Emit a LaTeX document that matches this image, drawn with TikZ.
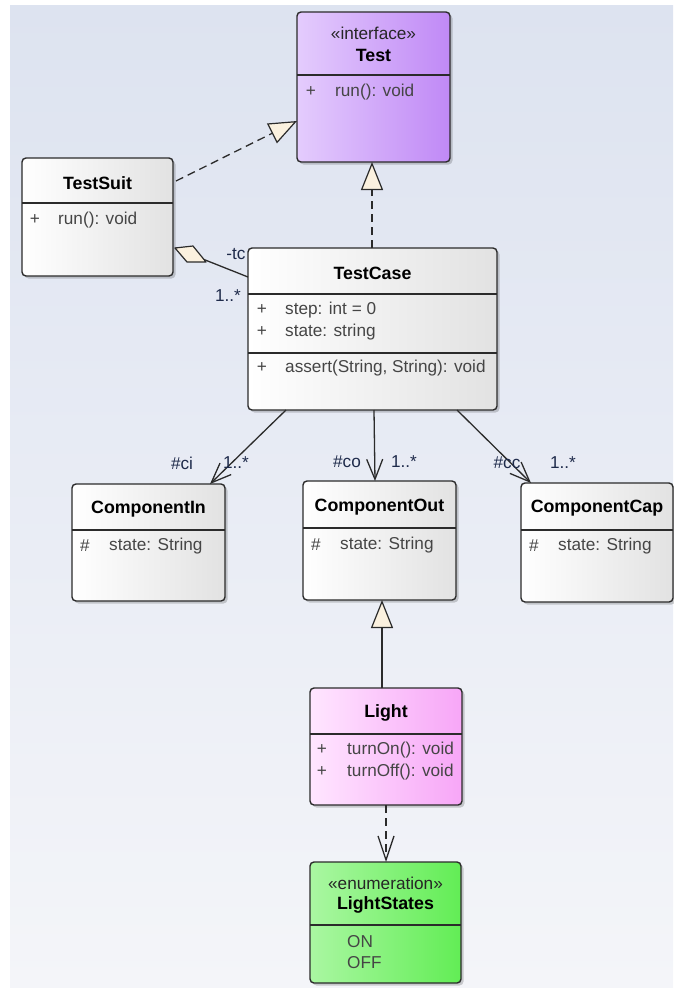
\documentclass[tikz,border=0pt]{standalone}
\usepackage{fontspec}
\setmainfont{Liberation Sans}
\usetikzlibrary{arrows.meta,shadows,calc}

\definecolor{bgtop}{HTML}{DDE3F0}
\definecolor{bgbot}{HTML}{F4F5F9}
\definecolor{boxline}{HTML}{2B2B2B}
\definecolor{membertext}{HTML}{454545}
\definecolor{roletext}{HTML}{1E2A4A}
\definecolor{tipfill}{HTML}{FBF1DF}
\definecolor{grayL}{HTML}{FFFFFF}
\definecolor{grayR}{HTML}{E2E2E2}
\definecolor{ifaceL}{HTML}{E4CCFD}
\definecolor{ifaceR}{HTML}{C089F6}
\definecolor{lightL}{HTML}{FFE6FF}
\definecolor{lightR}{HTML}{F7A6F7}
\definecolor{enumL}{HTML}{AAF7A2}
\definecolor{enumR}{HTML}{62ED55}

\newcommand\umlbody{\fontsize{17.2}{20}\selectfont}
\newcommand\umlname{\fontsize{17.8}{20}\selectfont\bfseries}

\tikzset{
  classbox/.style={draw=boxline, line width=1.4pt, rounded corners=4pt,
    anchor=north west, inner sep=0pt, outer sep=0pt,
    drop shadow={shadow xshift=2.5pt, shadow yshift=-2.5pt, opacity=0.18, fill=black}},
  plainbox/.style={classbox, left color=grayL, right color=grayR},
  divider/.style={draw=boxline, line width=1.2pt},
  cname/.style={font=\umlname, text=black, inner sep=0pt},
  stereo/.style={font=\umlbody, text=black!85, inner sep=0pt},
  member/.style={font=\umlbody, text=membertext, inner sep=0pt, anchor=west},
  vis/.style={font=\umlbody, text=membertext, inner sep=0pt},
  role/.style={font=\umlbody, text=roletext, inner sep=0pt},
  realize/.style={draw=boxline, line width=1.3pt, dash pattern=on 8pt off 5pt,
    -{Triangle[length=28pt,width=22pt,fill=tipfill,line width=1.2pt]}},
  generalize/.style={draw=boxline, line width=1.3pt,
    -{Triangle[length=28pt,width=22pt,fill=tipfill,line width=1.2pt]}},
  assoc/.style={draw=boxline, line width=1.3pt,
    -{Straight Barb[length=20pt,width=16pt,line width=1.3pt]}},
  depend/.style={draw=boxline, line width=1.3pt, dash pattern=on 8pt off 5pt,
    -{Straight Barb[length=24pt,width=16pt,line width=1.3pt]}},
  aggline/.style={draw=boxline, line width=1.3pt},
}

\begin{document}
\begin{tikzpicture}[x=1pt,y=-1pt]
\useasboundingbox (0,0) rectangle (673,988);
\fill[white] (0,0) rectangle (673,988);
\shade[top color=bgtop, bottom color=bgbot] (10,5) rectangle (673,988);

% ---- classes ----
\node[classbox, left color=ifaceL, right color=ifaceR,
      minimum width=153pt, minimum height=150pt] (test) at (297,12) {};
\draw[divider] (297,75) -- (450,75);
\node[stereo] (testst) at (373.5,33) {«interface»};
\node[cname] (testnm) at (373.5,55) {Test};
\node[vis] (testv1) at (311,92) {+};
\node[member] (testm1) at (335,92) {run(): void};

\node[plainbox, minimum width=151pt, minimum height=118pt] (ts) at (22,158) {};
\draw[divider] (22,203) -- (173,203);
\node[cname] (tsnm) at (97.5,183) {TestSuit};
\node[vis] (tsv1) at (35,220) {+};
\node[member] (tsm1) at (58,220) {run(): void};

\node[plainbox, minimum width=249pt, minimum height=162pt] (tc) at (248,248) {};
\draw[divider] (248,294) -- (497,294);
\draw[divider] (248,353) -- (497,353);
\node[cname] (tcnm) at (372.5,273) {TestCase};
\node[vis] (tcv1) at (262,310) {+};
\node[member] (tcm1) at (285,310) {step: int = 0};
\node[vis] (tcv2) at (262,332) {+};
\node[member] (tcm2) at (285,332) {state: string};
\node[vis] (tcv3) at (262,368) {+};
\node[member] (tcm3) at (285,368) {assert(String, String): void};

\node[plainbox, minimum width=153pt, minimum height=117pt] (ci) at (72,484) {};
\draw[divider] (72,530) -- (225,530);
\node[cname] (cinm) at (148.5,509) {ComponentIn};
\node[vis] (civ1) at (85,546) {\#};
\node[member] (cim1) at (109,546) {state: String};

\node[plainbox, minimum width=153pt, minimum height=119pt] (co) at (303,481) {};
\draw[divider] (303,528) -- (456,528);
\node[cname] (conm) at (379.5,507) {ComponentOut};
\node[vis] (cov1) at (316,545) {\#};
\node[member] (com1) at (340,545) {state: String};

\node[plainbox, minimum width=152pt, minimum height=119pt] (cc) at (521,483) {};
\draw[divider] (521,530) -- (673,530);
\node[cname] (ccnm) at (597,508) {ComponentCap};
\node[vis] (ccv1) at (534,546) {\#};
\node[member] (ccm1) at (558,546) {state: String};

\node[classbox, left color=lightL, right color=lightR,
      minimum width=152pt, minimum height=117pt] (light) at (310,688) {};
\draw[divider] (310,734) -- (462,734);
\node[cname] (lightnm) at (386,713) {Light};
\node[vis] (lightv1) at (322,750) {+};
\node[member] (lightm1) at (347,750) {turnOn(): void};
\node[vis] (lightv2) at (322,772) {+};
\node[member] (lightm2) at (347,772) {turnOff(): void};

\node[classbox, left color=enumL, right color=enumR,
      minimum width=151pt, minimum height=121pt] (ls) at (310,862) {};
\draw[divider] (310,925) -- (461,925);
\node[stereo] (lsst) at (385.5,883) {«enumeration»};
\node[cname] (lsnm) at (385.5,905) {LightStates};
\node[member] (lsm1) at (347,942) {ON};
\node[member] (lsm2) at (347,963) {OFF};

% ---- relations ----
\draw[realize] ([xshift=3pt,yshift=-23pt]ts.north east) -- ([yshift=-109pt]test.north west);
\draw[realize] ([xshift=124pt]tc.north west) -- ([xshift=75pt]test.south west);

% aggregation TestSuit <>-- TestCase
\draw[aggline] ([xshift=2pt,yshift=-90pt]ts.north east) -- ([yshift=-29pt]tc.north west);
\filldraw[fill=tipfill, draw=boxline, line width=1.2pt, line join=round]
  (175,248) -- (193,246) -- (206,262) -- (187,262) -- cycle;
\node[role] (tcrole) at (236,254) {-tc};
\node[role] (tcmult) at (228,296) {1..*};

\draw[assoc] ([xshift=38pt]tc.south west) -- ([xshift=138pt]ci.north west);
\draw[assoc] ([xshift=126pt]tc.south west) -- ([xshift=72pt]co.north west);
\draw[assoc] ([xshift=209pt]tc.south west) -- ([xshift=10pt]cc.north west);
\node[role] (cirole) at (182,463) {\#ci};
\node[role] (cimult) at (236,463) {1..*};
\node[role] (corole) at (347,462) {\#co};
\node[role] (comult) at (404,462) {1..*};
\node[role] (ccrole) at (507,463) {\#cc};
\node[role] (ccmult) at (563,463) {1..*};

\draw[generalize] ([xshift=72pt]light.north west) -- ([xshift=79pt]co.south west);
\draw[depend] ([xshift=76pt]light.south west) -- ([xshift=76pt]ls.north west);
\end{tikzpicture}
\end{document}
